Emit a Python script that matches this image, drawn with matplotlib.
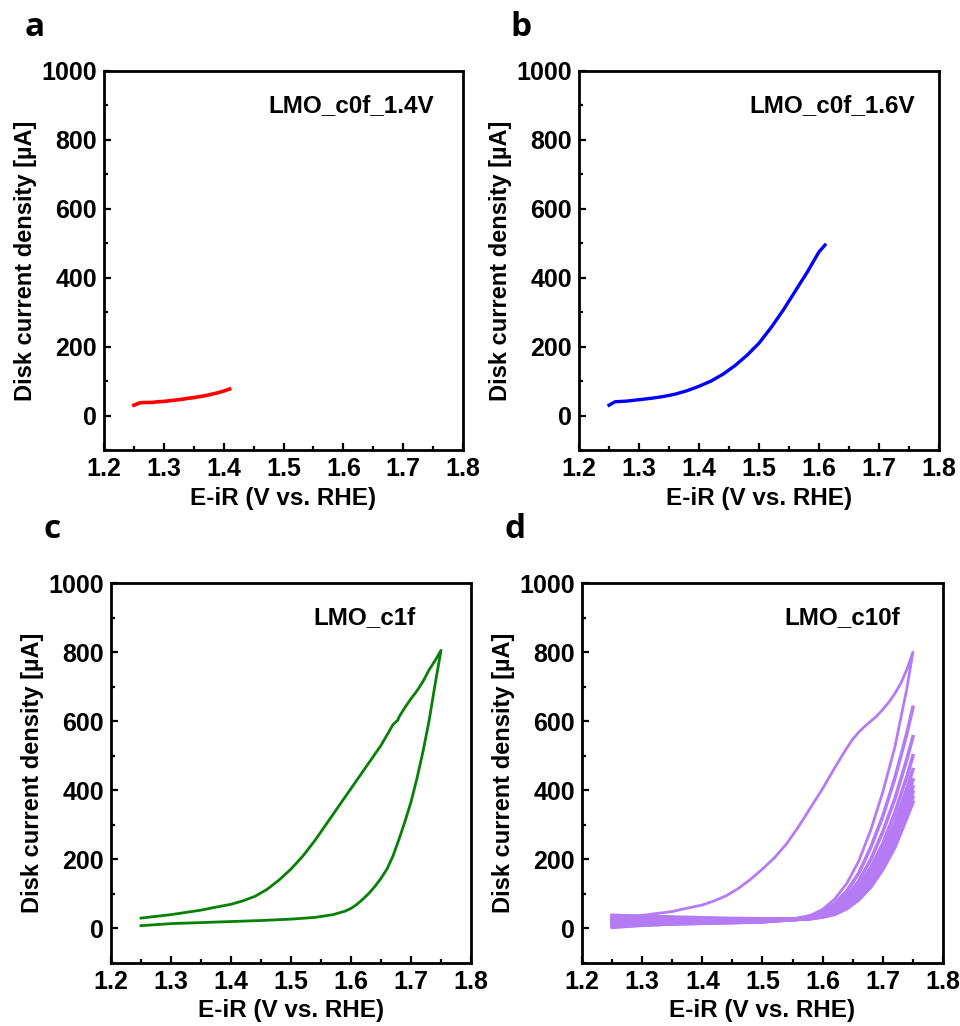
import matplotlib
matplotlib.use("Agg")
from matplotlib import pyplot as plt
from matplotlib.ticker import MultipleLocator

plt.rcParams['font.family'] = ['Liberation Sans', 'DejaVu Sans']
plt.rcParams['font.weight'] = 'bold'

# panel a: LMO_c0f_1.4V (LSV to 1.4 V)
a_x = [1.25, 1.26, 1.27, 1.28, 1.29, 1.30, 1.31, 1.32, 1.33, 1.34, 1.35,
       1.36, 1.37, 1.38, 1.39, 1.40, 1.41]
a_y = [30, 37, 38, 38, 40, 41, 43, 45, 47, 50, 52, 55, 58, 62, 66, 71, 77]

# panel b: LMO_c0f_1.6V
b_x = [1.25, 1.26, 1.28, 1.30, 1.32, 1.34, 1.36, 1.38, 1.40, 1.42, 1.44,
       1.46, 1.48, 1.50, 1.52, 1.54, 1.56, 1.58, 1.60, 1.61]
b_y = [30, 40, 42, 46, 50, 55, 62, 72, 85, 100, 120, 145, 175, 210, 255,
       305, 360, 415, 475, 495]

# panel c: LMO_c1f, one cycle (forward then return)
c_fwd_x = [1.25, 1.30, 1.35, 1.40, 1.45, 1.50, 1.54, 1.57, 1.59, 1.60, 1.61,
           1.62, 1.63, 1.64, 1.65, 1.66, 1.67, 1.68, 1.69, 1.70, 1.71, 1.72,
           1.73, 1.74, 1.75]
c_fwd_y = [8, 14, 17, 20, 23, 27, 32, 40, 50, 58, 70, 85, 102, 122, 145, 172,
           210, 258, 310, 366, 435, 512, 600, 705, 805]
c_ret_x = [1.75, 1.74, 1.73, 1.72, 1.71, 1.70, 1.69, 1.68, 1.678, 1.67, 1.66,
           1.65, 1.64, 1.62, 1.60, 1.58, 1.56, 1.54, 1.52, 1.50, 1.48, 1.46,
           1.44, 1.42, 1.40, 1.37, 1.35, 1.30, 1.25]
c_ret_y = [805, 775, 748, 715, 688, 665, 640, 612, 603, 590, 560, 530, 505,
           455, 405, 355, 305, 255, 210, 172, 140, 113, 93, 80, 70, 60, 53,
           40, 30]

# panel d: LMO_c10f, ten cycles
d_x = [1.25, 1.30, 1.35, 1.40, 1.45, 1.50, 1.55, 1.58, 1.60, 1.62, 1.64,
       1.66, 1.68, 1.70, 1.72, 1.74, 1.75]
d_fwd = [
    [2, 8, 12, 14, 16, 18, 26, 38, 55, 85, 130, 195, 285, 395, 525, 695, 800],
    [6, 10, 13, 15, 17, 19, 26, 36, 48, 72, 108, 160, 235, 325, 435, 565, 640],
    [10, 13, 15, 16, 18, 20, 25, 33, 43, 63, 93, 137, 200, 280, 375, 490, 555],
    [14, 16, 17, 18, 19, 21, 25, 31, 40, 56, 83, 122, 176, 246, 335, 440, 500],
    [18, 20, 20, 20, 21, 22, 25, 30, 38, 52, 76, 111, 162, 226, 306, 405, 460],
    [22, 23, 23, 22, 22, 23, 25, 29, 36, 49, 71, 103, 150, 210, 285, 380, 430],
    [26, 26, 25, 24, 24, 24, 26, 29, 35, 46, 67, 97, 141, 198, 270, 362, 410],
    [30, 29, 28, 26, 25, 25, 26, 28, 34, 44, 63, 92, 133, 188, 258, 348, 395],
    [34, 32, 30, 28, 27, 26, 27, 29, 33, 42, 60, 87, 126, 179, 246, 334, 380],
    [38, 35, 33, 31, 29, 28, 28, 30, 34, 41, 57, 83, 120, 171, 235, 321, 365],
]
d_ret1_x = [1.75, 1.74, 1.73, 1.72, 1.71, 1.70, 1.69, 1.68, 1.67, 1.66, 1.65,
            1.64, 1.62, 1.60, 1.58, 1.56, 1.54, 1.52, 1.50, 1.48, 1.46, 1.44,
            1.42, 1.40, 1.37, 1.35, 1.30, 1.25]
d_ret1_y = [800, 750, 710, 680, 655, 634, 615, 600, 585, 568, 548, 522, 465,
            405, 350, 295, 245, 205, 172, 142, 116, 95, 80, 68, 57, 49, 38, 30]

labels = ["LMO_c0f_1.4V", "LMO_c0f_1.6V", "LMO_c1f", "LMO_c10f"]
colors = ["#ff0000", "#0000ff", "#078007", "#b57bf5"]

W, H = 960, 1026
fig = plt.figure(figsize=(W / 100, H / 100), dpi=100)


def make_ax(left, bottom, w, h):
    ax = fig.add_axes([left / W, (H - bottom) / H, w / W, h / H])
    ax.set_xlim(1.2, 1.8)
    ax.set_ylim(-100, 1000)
    ax.xaxis.set_minor_locator(MultipleLocator(0.05))
    ax.yaxis.set_major_locator(MultipleLocator(200))
    ax.yaxis.set_minor_locator(MultipleLocator(100))
    ax.set_xticks([1.2, 1.3, 1.4, 1.5, 1.6, 1.7, 1.8])
    ax.set_xticklabels(["1.2", "1.3", "1.4", "1.5", "1.6", "1.7", "1.8"])
    ax.tick_params(which='both', direction='in', top=False, right=False,
                   labelsize=18, width=1.6, pad=5)
    ax.tick_params(which='major', length=5)
    ax.tick_params(which='minor', length=3)
    for s in ax.spines.values():
        s.set_linewidth(2.0)
    ax.set_xlabel("E-iR (V vs. RHE)", fontsize=17.5, fontweight='bold', labelpad=4)
    ax.set_ylabel("Disk current density [\u00b5A]", fontsize=17,
                  fontweight='bold', labelpad=3)
    return ax


axa = make_ax(104, 450, 359, 379)
axb = make_ax(579, 450, 360, 379)
axc = make_ax(111, 963, 360, 380)
axd = make_ax(582, 963, 361, 380)

axa.plot(a_x, a_y, color=colors[0], lw=2.6)
axb.plot(b_x, b_y, color=colors[1], lw=2.4)
axc.plot(c_fwd_x + c_ret_x, c_fwd_y + c_ret_y, color=colors[2], lw=2.0)
axd.plot(d_x + d_ret1_x, d_fwd[0] + d_ret1_y, color=colors[3], lw=2.0)
for cyc in d_fwd[1:]:
    axd.plot(d_x, cyc, color=colors[3], lw=2.6)

for ax, lab, xr in zip([axa, axb, axc, axd], labels, [0.92, 0.933, 0.845, 0.88]):
    ax.text(xr, 0.91, lab, transform=ax.transAxes, ha='right', va='center',
            fontsize=17.5, fontweight='bold')

for letter, x, y in [("a", 35, 36), ("b", 521, 36), ("c", 52, 538), ("d", 515, 538)]:
    fig.text(x / W, 1 - y / H, letter, ha='center', va='baseline',
             fontsize=24, fontweight='bold', family=['Open Sans', 'DejaVu Sans'])

fig.savefig("out.png", dpi=100)
